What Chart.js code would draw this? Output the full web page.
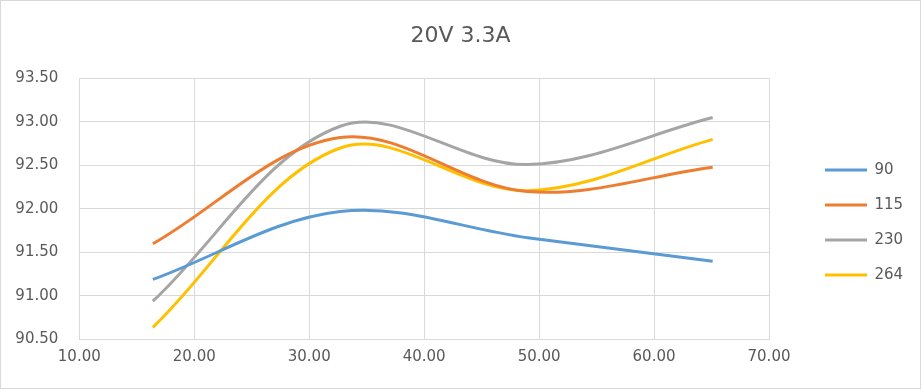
<!DOCTYPE html>
<html>
<head>
<meta charset="utf-8">
<script src="https://cdn.jsdelivr.net/npm/chart.js@4/dist/chart.umd.min.js"></script>
<style>
  html, body { margin: 0; padding: 0; background: #fff; }
  .frame { width: 921px; height: 389px; box-sizing: border-box; border: 1px solid #d9d9d9; }
  canvas { display: block; }
</style>
</head>
<body>
<div class="frame"><canvas id="chart" width="919" height="387"></canvas></div>
<script>
// load points (x) and efficiency per input voltage
const loadX = [16.4, 32.7, 49.0, 65.1];
const series90 = [91.19, 91.97, 91.67, 91.40];
const series115 = [91.60, 92.82, 92.20, 92.48];
const series230 = [90.94, 92.95, 92.51, 93.05];
const series264 = [90.64, 92.70, 92.21, 92.80];
const seriesNames = ['90', '115', '230', '264'];
const colors = ['#5B9BD5', '#ED7D31', '#A5A5A5', '#FFC000'];

const allSeries = [series90, series115, series230, series264];
const font = 'DejaVu Sans';
const textColor = '#595959';
const gridColor = '#d9d9d9';

// legend box is kept a fixed width so its entries sit where the original has them
const legendWidth = {
  id: 'legendWidth',
  beforeLayout(chart) {
    const legend = chart.legend;
    if (legend && !legend._fixedWidth) {
      const fit = legend.fit.bind(legend);
      legend.fit = () => { fit(); legend.width = 115; };
      legend._fixedWidth = true;
    }
  },
};

new Chart(document.querySelector('#chart'), {
  type: 'line',
  data: {
    datasets: allSeries.map((values, i) => ({
      label: seriesNames[i],
      data: values.map((y, j) => ({ x: loadX[j], y })),
      borderColor: colors[i],
      backgroundColor: colors[i],
      borderWidth: 3,
      pointRadius: 0,
      tension: 0.35,
      fill: false,
    })),
  },
  plugins: [legendWidth],
  options: {
    responsive: false,
    animation: false,
    layout: { padding: 0 },
    plugins: {
      title: {
        display: true,
        text: '20V 3.3A',
        color: textColor,
        font: { family: font, size: 22, weight: 'normal' },
        padding: { top: 22, bottom: 29 },
      },
      legend: {
        position: 'right',
        fullSize: false,
        title: { display: true, text: '', font: { size: 10 }, padding: { top: 15, bottom: 0 } },
        labels: {
          usePointStyle: true,
          pointStyle: 'line',
          pointStyleWidth: 42,
          padding: 20,
          color: textColor,
          font: { family: font, size: 15 },
        },
      },
      tooltip: { enabled: false },
    },
    scales: {
      x: {
        type: 'linear',
        min: 10,
        max: 70,
        ticks: { stepSize: 10, color: textColor, font: { family: font, size: 15 }, padding: 9, callback: (v) => v.toFixed(2) },
        grid: { color: gridColor, drawTicks: false },
        border: { color: gridColor },
        afterFit: (s) => { s.height = 48.5; },
      },
      y: {
        min: 90.5,
        max: 93.5,
        ticks: { stepSize: 0.5, color: textColor, font: { family: font, size: 15 }, padding: 21, callback: (v) => v.toFixed(2) },
        grid: { color: gridColor, drawTicks: false },
        border: { color: gridColor },
        afterFit: (s) => { s.width = 78.3; },
      },
      gap: {
        type: 'linear',
        position: 'right',
        grid: { display: false },
        border: { display: false },
        ticks: { display: false },
        afterFit: (s) => { s.width = 36; },
      },
    },
  },
});
</script>
</body>
</html>
